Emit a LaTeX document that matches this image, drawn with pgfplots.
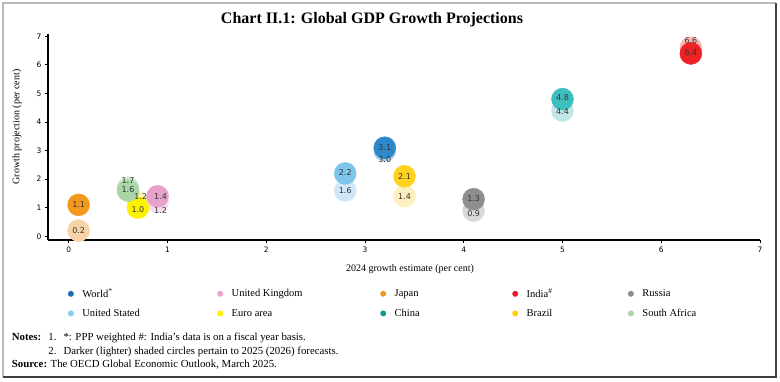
\documentclass[border=0pt]{standalone}
\usepackage{pgfplots}
\pgfplotsset{compat=1.18}
\usepackage{pgfplotstable}
\usepackage{fontspec}
\setmainfont{Liberation Serif}
\newfontfamily\dejavu{DejaVu Sans}

\definecolor{worldD}{HTML}{2C8ACB}
\definecolor{worldL}{HTML}{A9CDEB}
\definecolor{usD}{HTML}{7DC6EA}
\definecolor{usL}{HTML}{CFE7F6}
\definecolor{euD}{HTML}{FFF200}
\definecolor{euL}{HTML}{FBF3B8}
\definecolor{ukD}{HTML}{E7A2CB}
\definecolor{ukL}{HTML}{F6DCEB}
\definecolor{jpD}{HTML}{F39A1E}
\definecolor{jpL}{HTML}{F9D3A8}
\definecolor{inD}{HTML}{EE2125}
\definecolor{inL}{HTML}{F6B9AF}
\definecolor{ruD}{HTML}{8E8E8E}
\definecolor{ruL}{HTML}{D9D9D9}
\definecolor{cnD}{HTML}{3DBFBF}
\definecolor{cnL}{HTML}{C3E7E8}
\definecolor{brD}{HTML}{FFD21F}
\definecolor{brL}{HTML}{FCF0BE}
\definecolor{saD}{HTML}{A9D6A6}
\definecolor{saL}{HTML}{D2EAD0}

\definecolor{lgWorld}{HTML}{1F6CB4}
\definecolor{lgUK}{HTML}{F0A3C8}
\definecolor{lgJP}{HTML}{F39A1E}
\definecolor{lgIN}{HTML}{EE1C25}
\definecolor{lgRU}{HTML}{8E8E8E}
\definecolor{lgUS}{HTML}{87CDEE}
\definecolor{lgEU}{HTML}{FFF200}
\definecolor{lgCN}{HTML}{13998C}
\definecolor{lgBR}{HTML}{FFD200}
\definecolor{lgSA}{HTML}{A8D5A8}

% label positions: x, label y, label text
\pgfplotstableread{
x ly lab
3.20 3.12 3.1
2.80 2.22 2.2
0.70 0.93 1.0
0.93 1.40 1.4
0.10 1.10 1.1
6.30 6.43 6.4
4.10 1.31 1.3
5.00 4.86 4.8
3.40 2.10 2.1
0.60 1.64 1.6
}\darklab
\pgfplotstableread{
x ly lab
3.20 2.70 3.0
2.80 1.61 1.6
0.73 1.40 1.2
0.93 0.91 1.2
0.10 0.20 0.2
6.30 6.86 6.6
4.10 0.80 0.9
5.00 4.35 4.4
3.40 1.40 1.4
0.60 1.96 1.7
}\lightlab

\pgfplotsset{bub/.style={only marks, mark=*, mark size=11pt, color=#1, fill=#1, forget plot}}

\begin{document}
\begin{tikzpicture}[x=1pt,y=1pt]
\path[use as bounding box] (0,0) rectangle (780,-381);
\draw[gray!55, line width=1.2pt] (3,-377) -- (3,-3) -- (776,-3);
\draw[black!75, line width=1.2pt] (776,-3) -- (776,-377) -- (3,-377);
\node[font=\bfseries\fontsize{16}{19}\selectfont] at (372,-20) {Chart II.1: Global GDP Growth Projections};

\begin{axis}[
  at={(48pt,-240pt)}, anchor=south west,
  scale only axis, width=712pt, height=206pt,
  xmin=-0.21, xmax=7, ymin=-0.13, ymax=7.08,
  axis lines=left, axis line style={-, line width=1.6pt, black},
  xtick={0,1,2,3,4,5,6,7}, ytick={0,1,2,3,4,5,6,7},
  tick align=outside, major tick length=3pt,
  tick style={black, line width=0.8pt},
  tick label style={font=\dejavu\fontsize{7.5}{9}\selectfont},
  /pgf/number format/assume math mode=true,
  clip=false,
  legend columns=5,
  legend style={at={(axis description cs:0.0277,-0.307)}, anchor=west,
    draw=none, fill=none, inner sep=0pt,
    font=\fontsize{10.5}{12}\selectfont, row sep=6pt,
    /tikz/every odd column/.append style={column sep=6.5pt}},
  legend image code/.code={\fill[#1] (0pt,0pt) circle (3pt);},
]
\addlegendimage{fill=lgWorld, draw=none}
\addlegendentry{\makebox[132.8pt][l]{World\textsuperscript{*}}}
\addlegendimage{fill=lgUK, draw=none}
\addlegendentry{\makebox[146.5pt][l]{United Kingdom}}
\addlegendimage{fill=lgJP, draw=none}
\addlegendentry{\makebox[115.5pt][l]{Japan}}
\addlegendimage{fill=lgIN, draw=none}
\addlegendentry{\makebox[99.2pt][l]{India\textsuperscript{\#}}}
\addlegendimage{fill=lgRU, draw=none}
\addlegendentry{\makebox[80pt][l]{Russia}}
\addlegendimage{fill=lgUS, draw=none}
\addlegendentry{\makebox[132.8pt][l]{United Stated}}
\addlegendimage{fill=lgEU, draw=none}
\addlegendentry{\makebox[146.5pt][l]{Euro area}}
\addlegendimage{fill=lgCN, draw=none}
\addlegendentry{\makebox[115.5pt][l]{China}}
\addlegendimage{fill=lgBR, draw=none}
\addlegendentry{\makebox[99.2pt][l]{Brazil}}
\addlegendimage{fill=lgSA, draw=none}
\addlegendentry{\makebox[80pt][l]{South Africa}}

% lighter circles: 2026 forecasts
\addplot[bub=worldL] coordinates {(3.2,3.0)};
\addplot[bub=usL] coordinates {(2.8,1.6)};
\addplot[bub=euL] coordinates {(0.7,1.2)};
\addplot[bub=ukL] coordinates {(0.9,1.2)};
\addplot[bub=jpL] coordinates {(0.1,0.2)};
\addplot[bub=inL] coordinates {(6.3,6.6)};
\addplot[bub=ruL] coordinates {(4.1,0.9)};
\addplot[bub=cnL] coordinates {(5.0,4.4)};
\addplot[bub=brL] coordinates {(3.4,1.4)};
\addplot[bub=saL] coordinates {(0.6,1.7)};
% darker circles: 2025 forecasts
\addplot[bub=worldD] coordinates {(3.2,3.1)};
\addplot[bub=usD] coordinates {(2.8,2.2)};
\addplot[bub=euD] coordinates {(0.7,1.0)};
\addplot[bub=ukD] coordinates {(0.9,1.4)};
\addplot[bub=jpD] coordinates {(0.1,1.1)};
\addplot[bub=inD] coordinates {(6.3,6.4)};
\addplot[bub=ruD] coordinates {(4.1,1.3)};
\addplot[bub=cnD] coordinates {(5.0,4.8)};
\addplot[bub=brD] coordinates {(3.4,2.1)};
\addplot[bub=saD] coordinates {(0.6,1.6)};

% value labels
\addplot[draw=none, mark=none, forget plot, nodes near coords, point meta=explicit symbolic,
  nodes near coords style={anchor=center, inner sep=0pt, font=\dejavu\fontsize{8}{9}\selectfont, text=black!80}]
  table[x=x, y=ly, meta=lab] {\lightlab};
\addplot[draw=none, mark=none, forget plot, nodes near coords, point meta=explicit symbolic,
  nodes near coords style={anchor=center, inner sep=0pt, font=\dejavu\fontsize{8}{9}\selectfont, text=black!80}]
  table[x=x, y=ly, meta=lab] {\darklab};
\end{axis}

\node[rotate=90, font=\fontsize{10}{12}\selectfont] at (17,-127) {Growth projection (per cent)};
\node[font=\fontsize{10}{12}\selectfont] at (410,-269) {2024 growth estimate (per cent)};

\begin{scope}[font=\fontsize{10.8}{12}\selectfont]
\node[anchor=base west, inner sep=0pt] at (11.7,-340.5) {\textbf{Notes:}};
\node[anchor=base west, inner sep=0pt] at (48.3,-340.5) {1.};
\node[anchor=base west, inner sep=0pt] at (63.3,-340.5) {*: PPP weighted \#: India's data is on a fiscal year basis.};
\node[anchor=base west, inner sep=0pt] at (48.3,-354.5) {2.};
\node[anchor=base west, inner sep=0pt] at (63.3,-354.5) {Darker (lighter) shaded circles pertain to 2025 (2026) forecasts.};
\node[anchor=base west, inner sep=0pt] at (11.7,-367.5) {\textbf{Source:} The OECD Global Economic Outlook, March 2025.};
\end{scope}
\end{tikzpicture}
\end{document}
